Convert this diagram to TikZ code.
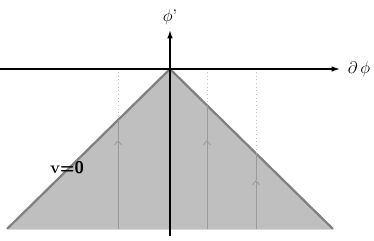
\documentclass[tikz,border=0pt]{standalone}
\usepackage{amsmath,amssymb}
\usepackage{tikz}
\usetikzlibrary{arrows.meta,positioning}

\begin{document}
\begin{tikzpicture}
          [x=2.5mm,y=2.5mm,semithick]
          \tikzstyle{axis}=[draw=black,line width=1pt,-{Latex[length=6pt,width=4pt]}]
          \tikzstyle{edge}=[draw=black!50,line width=1.6pt,line join=round]
          \tikzstyle{flow}=[draw=black!40,line width=0.6pt]
          \tikzstyle{ghost}=[draw=black!25,line width=0.6pt,dotted]
          \tikzstyle{tip}=[-{Straight Barb[length=3pt,width=5pt]}]
          \useasboundingbox (-17,-17.1) rectangle (20.4,6.9);

          \coordinate (O) at (0,0);
          \coordinate (L) at (-16.3,-16);
          \coordinate (R) at (16.3,-16);
          \coordinate (xs) at (-17,0);
          \coordinate (xe) at (17,0);
          \coordinate (ys) at (0,-16.7);
          \coordinate (ye) at (0,3.9);

          % region
          \path[fill=black!25] (O) -- (L) -- (R) -- cycle;
          \draw[edge] (L) -- (O) -- (R);
          \draw[draw=black!15,line width=0.6pt] (L) -- (R);

          % flow lines
          \foreach \n/\x/\y/\m in {a/-5.2/-5.1/-7.1, b/3.7/-3.63/-7.1, c/8.6/-8.44/-11.1}
          {
            \coordinate (top\n) at (\x,-0.3);
            \coordinate (hit\n) at (\x,\y);
            \coordinate (mid\n) at (\x,\m);
            \coordinate (bot\n) at (\x,-16);
            \draw[ghost] (top\n) -- (hit\n);
            \draw[flow,tip] (bot\n) -- (mid\n);
            \draw[flow] (mid\n) -- (hit\n);
          }

          % axes
          \draw[axis] (xs) -- (xe);
          \draw[axis] (ys) -- (ye);
          \node (dphi) [right=2pt of xe,font=\large] {$\partial\,\phi$};
          \node (phip) [above=0pt of ye,font=\large] {$\phi$'};
          \node (v0) at (-10.3,-9.9) {\large\textbf{v}\textsf{\textbf{=0}}};
        \end{tikzpicture}
\end{document}
